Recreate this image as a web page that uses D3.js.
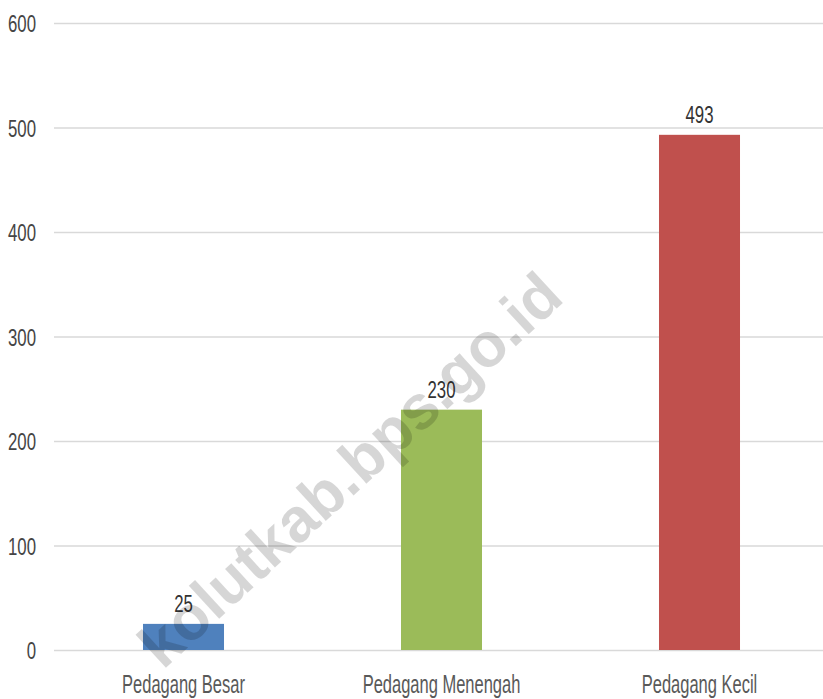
<!DOCTYPE html>
<html>
<head>
<meta charset="utf-8">
<script src="https://cdn.jsdelivr.net/npm/d3@7"></script>
<style>
  html, body { margin: 0; padding: 0; background: #fff; }
  svg { display: block; }
  text { font-family: "Liberation Sans", Arial, sans-serif; }
</style>
</head>
<body>
<svg id="chart" width="823" height="699"></svg>
<script>
// Jumlah pedagang menurut skala usaha
const categories = ["Pedagang Besar", "Pedagang Menengah", "Pedagang Kecil"];
const values = [25, 230, 493];
const barColors = ["#4f81bd", "#9bbb59", "#c0504d"];
const yTicks = [0, 100, 200, 300, 400, 500, 600];
const watermark = "kolutkab.bps.go.id";

const plot = { left: 54, right: 823, top: 23, bottom: 650 };
const NARROW = 0.70; // horizontal squeeze for the condensed label face

const svg = d3.select("#chart");

const y = d3.scaleLinear().domain([0, 600]).range([plot.bottom, plot.top]);
const x = d3.scaleBand()
  .domain(categories)
  .range([54.5, 828.5])
  .paddingInner(0.686)
  .paddingOuter(0.343);

// Gridlines and tick labels
const yAxis = d3.axisLeft(y)
  .tickValues(yTicks)
  .tickSize(-(plot.right - plot.left))
  .tickFormat(d3.format("d"));

const gAxis = svg.append("g")
  .attr("transform", `translate(${plot.left},0)`)
  .call(yAxis);
gAxis.select(".domain").remove();
gAxis.selectAll(".tick line")
  .attr("stroke", "#d9d9d9")
  .attr("stroke-width", 1.3);
gAxis.selectAll(".tick text")
  .attr("x", null)
  .attr("dy", "0.36em")
  .attr("transform", `translate(-18,0) scale(${NARROW},1)`)
  .attr("text-anchor", "end")
  .attr("fill", "#454545")
  .style("font-size", "24px");

// Bars
svg.append("g").selectAll("rect")
  .data(values)
  .join("rect")
  .attr("x", (d, i) => x(categories[i]))
  .attr("width", x.bandwidth())
  .attr("y", d => y(d))
  .attr("height", d => y(0) - y(d))
  .attr("fill", (d, i) => barColors[i]);

// Value labels above bars
svg.append("g").selectAll("text")
  .data(values)
  .join("text")
  .attr("transform", (d, i) =>
    `translate(${x(categories[i]) + x.bandwidth() / 2},${y(d) - 12}) scale(${NARROW},1)`)
  .attr("text-anchor", "middle")
  .attr("fill", "#333")
  .style("font-size", "24px")
  .text(d => d);

// Category labels
svg.append("g").selectAll("text")
  .data(categories)
  .join("text")
  .attr("transform", d =>
    `translate(${x(d) + x.bandwidth() / 2},693) scale(0.66,1)`)
  .attr("text-anchor", "middle")
  .attr("fill", "#595959")
  .style("font-size", "25px")
  .text(d => d);

// Diagonal site watermark
svg.append("text")
  .attr("transform", "translate(566,300) rotate(-42.6)")
  .attr("text-anchor", "end")
  .attr("fill", "#000")
  .attr("fill-opacity", 0.16)
  .style("font-size", "62px")
  .style("font-weight", "bold")
  .text(watermark);
</script>
</body>
</html>
